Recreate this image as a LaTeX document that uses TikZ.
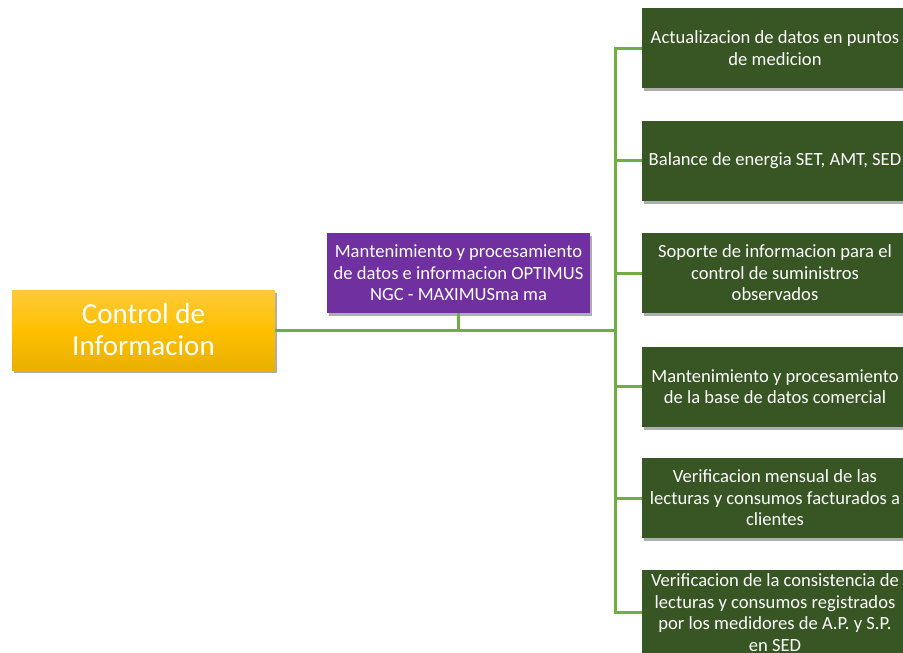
\documentclass[tikz,border=0pt]{standalone}
\usepackage{fontspec}
\setmainfont{Carlito}
\usetikzlibrary{shapes,positioning,calc,shadows}

\definecolor{rootgold}{HTML}{FFC000}
\definecolor{rootlight}{HTML}{FFCA3A}
\definecolor{rootdark}{HTML}{E8B000}
\definecolor{midpurple}{HTML}{7030A0}
\definecolor{leafgreen}{HTML}{375623}
\definecolor{linegreen}{HTML}{70AD47}

\begin{document}
\begin{tikzpicture}[x=1pt, y=-1pt,
  boxshadow/.style={drop shadow={shadow xshift=2pt, shadow yshift=-3pt, opacity=0.45, fill=black!70}},
  rootbox/.style={rectangle, minimum width=263pt, minimum height=80pt, top color=rootlight, bottom color=rootdark, middle color=rootgold, boxshadow, text=white, align=center, font=\fontsize{29}{32}\selectfont},
  midbox/.style={rectangle, fill=midpurple, minimum width=263pt, minimum height=80pt, boxshadow, text=white, align=center, font=\fontsize{18.6}{21.5}\selectfont},
  leafbox/.style={rectangle, fill=leafgreen, minimum width=266pt, minimum height=80pt, boxshadow, text=white, align=center, font=\fontsize{18.6}{21.5}\selectfont},
  link/.style={draw=linegreen, line width=3pt}]

\useasboundingbox (0,0) rectangle (903,653);

% Root node
\node[rootbox] (ctrl) at (143.5, 330) {Control de\\Informacion};

% Middle node
\node[midbox] (optimus) at (458.5, 273) {Mantenimiento y procesamiento\\de datos e informacion OPTIMUS\\NGC - MAXIMUSma ma};

% Leaf nodes
\node[leafbox] (puntos) at (775, 48) {Actualizacion de datos en puntos\\de medicion};
\node[leafbox] (balance) at (775, 160.5) {Balance de energia SET, AMT, SED};
\node[leafbox] (soporte) at (775, 273) {Soporte de informacion para el\\control de suministros\\observados};
\node[leafbox] (basedatos) at (775, 386.5) {Mantenimiento y procesamiento\\de la base de datos comercial};
\node[leafbox] (mensual) at (775, 498) {Verificacion mensual de las\\lecturas y consumos facturados a\\clientes};
\node[leafbox] (consistencia) at (775, 612.5) {Verificacion de la consistencia de\\lecturas y consumos registrados\\por los medidores de A.P. y S.P.\\en SED};

% Connectors
\coordinate (hub) at (615, 330);
\begin{scope}[on background layer/.try]
\path[link] (ctrl.east) -- (hub);
\path[link] (optimus.south) -- (optimus.south |- hub);
\foreach \leaf in {puntos, balance, soporte, basedatos, mensual, consistencia}
  \path[link] (hub) |- (\leaf.west);
\end{scope}

\end{tikzpicture}
\end{document}
